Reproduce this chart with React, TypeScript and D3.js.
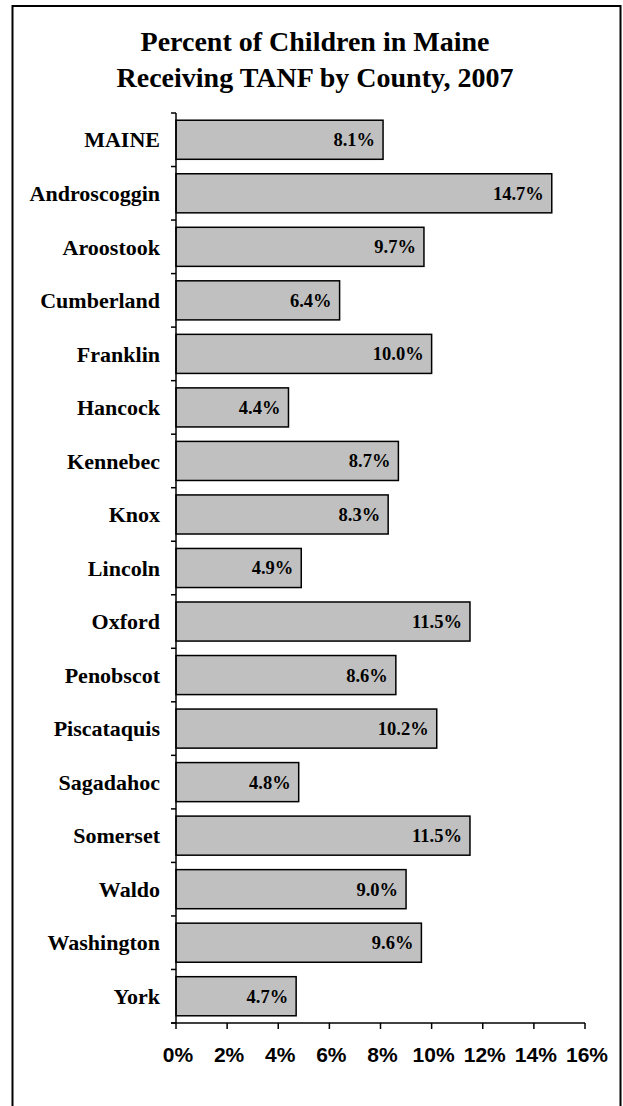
import React from "react";
import * as d3 from "d3";

const titleLines = ["Percent of Children in Maine", "Receiving TANF by County, 2007"];
const categories = ["MAINE", "Androscoggin", "Aroostook", "Cumberland", "Franklin", "Hancock", "Kennebec", "Knox", "Lincoln", "Oxford", "Penobscot", "Piscataquis", "Sagadahoc", "Somerset", "Waldo", "Washington", "York"];
const values = [8.1, 14.7, 9.7, 6.4, 10.0, 4.4, 8.7, 8.3, 4.9, 11.5, 8.6, 10.2, 4.8, 11.5, 9.0, 9.6, 4.7];
const xTicks = [0, 2, 4, 6, 8, 10, 12, 14, 16];

const W = 623, H = 1106;
const left = 176, right = 585, top = 113, bottom = 1023;

export default function App() {
  const x = d3.scaleLinear().domain([0, 16]).range([left, right]);
  const y = d3.scaleBand().domain(categories).range([top, bottom]).paddingInner(0.27).paddingOuter(0.135);
  const step = (bottom - top) / categories.length;
  const serif = "'Liberation Serif', 'Times New Roman', serif";
  return (
    <svg width={W} height={H} style={{ position: "absolute", left: 0, top: 0, background: "#fff" }}>
      <rect x={12.5} y={6} width={608} height={H + 20} fill="#fff" stroke="#000" strokeWidth={2} />
      {titleLines.map((t, i) => (
        <text key={t} x={315} y={51 + i * 36} textAnchor="middle" fontFamily={serif} fontWeight="bold" fontSize={28}>{t}</text>
      ))}
      {categories.map((c, i) => (
        <g key={c}>
          <rect x={x(0)} y={y(c)!} width={x(values[i]) - x(0)} height={y.bandwidth()} fill="#c0c0c0" stroke="#000" strokeWidth={1.5} />
          <text x={x(values[i]) - 8} y={y(c)! + y.bandwidth() / 2} dy="0.35em" textAnchor="end" fontFamily={serif} fontWeight="bold" fontSize={18.5}>{values[i].toFixed(1) + "%"}</text>
          <text x={160} y={y(c)! + y.bandwidth() / 2} dy="0.35em" textAnchor="end" fontFamily={serif} fontWeight="bold" fontSize={22}>{c}</text>
        </g>
      ))}
      <line x1={left} x2={left} y1={top} y2={bottom} stroke="#000" strokeWidth={1.5} />
      {d3.range(categories.length + 1).map((i) => (
        <line key={i} x1={left - 5} x2={left} y1={top + i * step} y2={top + i * step} stroke="#000" strokeWidth={1.5} />
      ))}
      <line x1={left - 5} x2={right} y1={bottom} y2={bottom} stroke="#000" strokeWidth={1.5} />
      {xTicks.map((t) => (
        <g key={t}>
          <line x1={x(t)} x2={x(t)} y1={bottom} y2={bottom + 6} stroke="#000" strokeWidth={1.5} />
          <text x={x(t) + 2} y={1062} textAnchor="middle" fontFamily="'Liberation Sans', Arial, sans-serif" fontWeight="bold" fontSize={21}>{t + "%"}</text>
        </g>
      ))}
    </svg>
  );
}
